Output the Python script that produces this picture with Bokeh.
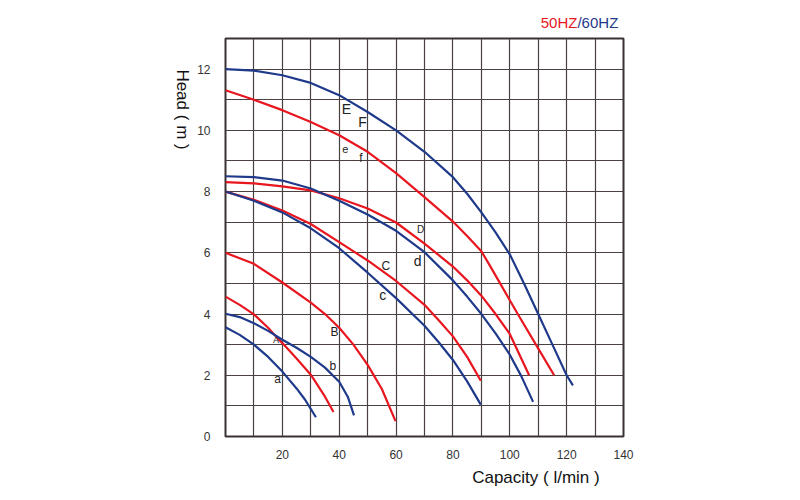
import math
from bokeh.plotting import figure
from bokeh.models import FixedTicker, Label, ColumnDataSource, Range1d
from bokeh.core.properties import value
from bokeh.embed import file_html
from bokeh.resources import INLINE

# ---------------- data ----------------
# 60 Hz curves (blue)
E_x = [0, 10, 20, 30, 40, 50, 60, 70, 80, 85, 90, 95, 100, 105, 110, 115, 120, 122.2]
E_y = [12.0, 11.95, 11.8, 11.55, 11.15, 10.6, 10.0, 9.3, 8.47, 7.93, 7.32, 6.67, 5.95, 5.0, 4.0, 3.0, 2.0, 1.67]
D_x = [0, 10, 20, 30, 40, 50, 60, 70, 80, 85, 90, 95, 100, 104, 108.2]
D_y = [8.5, 8.47, 8.36, 8.1, 7.7, 7.25, 6.72, 6.02, 5.1, 4.57, 4.0, 3.37, 2.67, 1.98, 1.13]
C_x = [0, 10, 20, 30, 40, 50, 60, 70, 75, 80, 85, 89.8]
C_y = [8.0, 7.70, 7.32, 6.8, 6.15, 5.35, 4.52, 3.62, 3.08, 2.5, 1.8, 1.04]
B_x = [0, 5, 10, 15, 20, 25, 30, 35, 40, 43, 45.2]
B_y = [4.01, 3.9, 3.7, 3.45, 3.16, 2.9, 2.6, 2.25, 1.79, 1.3, 0.69]
A_x = [0, 5, 10, 15, 20, 25, 28, 31.8]
A_y = [3.57, 3.32, 3.0, 2.6, 2.12, 1.57, 1.2, 0.63]

# 50 Hz curves (red)
e_x = [0, 10, 20, 30, 40, 50, 60, 70, 80, 85, 90, 93, 96.6, 102.8, 109.2, 115.6]
e_y = [11.31, 11.0, 10.66, 10.27, 9.84, 9.3, 8.6, 7.82, 7.02, 6.55, 6.05, 5.58, 5.0, 4.0, 3.0, 2.0]
d_x = [0, 10, 20, 30, 40, 50, 60, 70, 80, 85, 90, 95, 100, 106.8]
d_y = [8.31, 8.27, 8.17, 8.04, 7.78, 7.45, 6.99, 6.3, 5.55, 5.1, 4.6, 4.0, 3.35, 2.0]
c_x = [0, 10, 20, 30, 40, 50, 60, 70, 75, 80, 85, 89.8]
c_y = [8.0, 7.73, 7.38, 6.94, 6.35, 5.75, 5.08, 4.3, 3.8, 3.27, 2.6, 1.82]
b_x = [0, 10, 20, 30, 35, 40, 45, 50, 55, 59.8]
b_y = [6.0, 5.64, 5.03, 4.37, 4.0, 3.55, 3.0, 2.34, 1.55, 0.5]
a_x = [0, 5, 10, 15, 17.7, 20, 25, 30, 35, 38.0]
a_y = [4.57, 4.3, 3.99, 3.55, 3.27, 3.05, 2.55, 2.02, 1.3, 0.8]

x_ticks = [20, 40, 60, 80, 100, 120, 140]
y_ticks = [0, 2, 4, 6, 8, 10, 12]

curve_letters = ["E", "F", "e", "f", "D", "d", "C", "c", "B", "b", "A", "a"]

# ---------------- styling / layout ----------------
RED = "#e8161f"
BLUE = "#1f3a8a"
GRID = "#4a4040"
FONT = "Liberation Sans"

p = figure(width=784, height=496, output_backend="svg", toolbar_location=None,
           x_range=Range1d(0, 140), y_range=Range1d(0, 13),
           min_border_left=225, min_border_right=161,
           min_border_top=38, min_border_bottom=60)

p.background_fill_color = "white"
p.border_fill_color = "white"
p.outline_line_color = "#3a3232"
p.outline_line_width = 2

p.xgrid.ticker = FixedTicker(ticks=list(range(0, 141, 10)))
p.ygrid.ticker = FixedTicker(ticks=list(range(0, 14, 1)))
for g in (p.xgrid, p.ygrid):
    g.grid_line_color = GRID
    g.grid_line_width = 1.2
    g.grid_line_alpha = 1.0

p.xaxis.ticker = FixedTicker(ticks=x_ticks)
p.yaxis.ticker = FixedTicker(ticks=y_ticks)
for ax in (p.xaxis, p.yaxis):
    ax.axis_line_color = None
    ax.major_tick_line_color = None
    ax.minor_tick_line_color = None
    ax.major_label_text_font = FONT
    ax.major_label_text_font_size = "12px"
    ax.major_label_text_color = "#333333"
p.yaxis.major_label_standoff = 9
p.xaxis.major_label_standoff = 7

# curves: red (50 Hz) drawn first, blue (60 Hz) on top
for xs, ys in [(e_x, e_y), (d_x, d_y), (c_x, c_y), (b_x, b_y), (a_x, a_y)]:
    p.line(xs, ys, line_color=RED, line_width=2.2)
for xs, ys in [(E_x, E_y), (D_x, D_y), (C_x, C_y), (B_x, B_y), (A_x, A_y)]:
    p.line(xs, ys, line_color=BLUE, line_width=2.2)

# curve letters (annotation placements)
lab_x = [42.5, 48.2, 42.1, 47.6, 68.6, 67.6, 56.4, 55.3, 38.3, 37.8, 17.8, 18.3]
lab_y = [10.70, 10.26, 9.38, 9.10, 6.75, 5.74, 5.57, 4.62, 3.40, 2.29, 3.14, 1.88]
lab_sz = ["14px", "14px", "11px", "12px", "10px", "14px", "12px", "14px", "12px", "12px", "9px", "12px"]
src = ColumnDataSource(dict(x=lab_x, y=lab_y, t=curve_letters, s=lab_sz))
p.text(x="x", y="y", text="t", source=src, text_font=value(FONT), text_font_size="s",
       text_color="#222222", text_align="center", text_baseline="middle")

# titles: placed in side panels (so they are not clipped to the frame)
p.add_layout(Label(x=123.8, y=13.52, text="50HZ", text_color=RED, text_font=FONT,
                   text_font_size="15px", text_align="right", text_baseline="middle"), "above")
p.add_layout(Label(x=123.8, y=13.52, text="/60HZ", text_color=BLUE, text_font=FONT,
                   text_font_size="15px", text_align="left", text_baseline="middle"), "above")
p.add_layout(Label(x=109.2, y=-1.34, text="Capacity ( l/min )", text_color="#111111",
                   text_font=FONT, text_font_size="17px", text_align="center",
                   text_baseline="middle"), "below")
p.add_layout(Label(x=-15.05, y=10.68, text="Head ( m )", text_color="#111111",
                   text_font=FONT, text_font_size="17px", text_align="center",
                   text_baseline="middle", angle=-math.pi / 2), "left")

open("out.html", "w").write(file_html(p, INLINE))
